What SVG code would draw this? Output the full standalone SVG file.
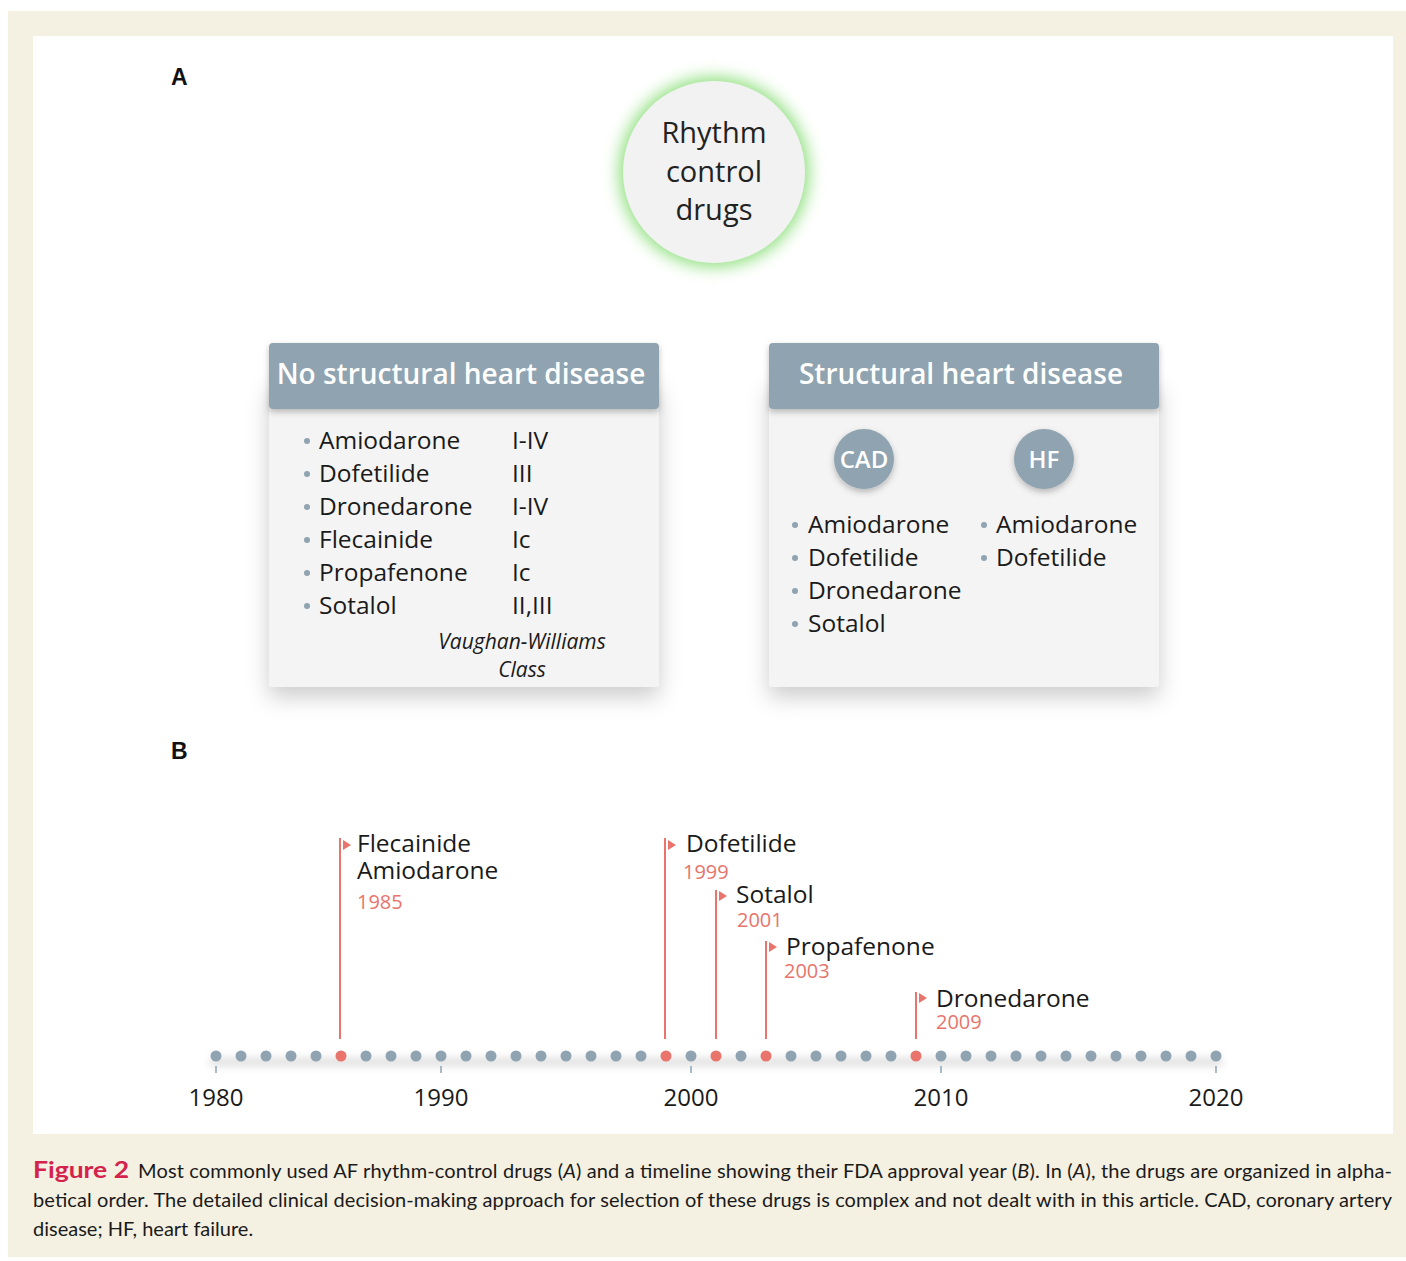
<svg xmlns="http://www.w3.org/2000/svg" width="1406" height="1261" viewBox="0 0 1406 1261">
<defs>
<filter id="glow" x="-40%" y="-40%" width="180%" height="180%"><feGaussianBlur stdDeviation="8"/></filter>
<filter id="shadow" x="-20%" y="-20%" width="140%" height="160%"><feDropShadow dx="0" dy="10" stdDeviation="11" flood-color="#000" flood-opacity="0.2"/></filter>
<filter id="hshadow" x="-10%" y="-20%" width="120%" height="160%"><feDropShadow dx="0" dy="3" stdDeviation="3" flood-color="#000" flood-opacity="0.25"/></filter>
<filter id="blur4" x="-10%" y="-200%" width="120%" height="500%"><feGaussianBlur stdDeviation="4"/></filter>
</defs>
<style>
.sans{font-family:"Open Sans","Noto Sans","DejaVu Sans",sans-serif;}
.item{font-family:"Open Sans","Noto Sans",sans-serif;font-size:24.5px;fill:#1a1a1a;}
.vw{font-family:"Open Sans","Noto Sans",sans-serif;font-size:21px;font-style:italic;fill:#1a1a1a;text-anchor:middle;}
.hdr{font-family:"Open Sans","Noto Sans",sans-serif;font-size:28px;font-weight:600;fill:#ffffff;text-anchor:middle;}
.bul{fill:#8fa3b0;}
.dot{fill:#8fa3b0;}
.rdot{fill:#e8746c;}
.rline{stroke:#e8746c;stroke-width:2;fill:none;}
.flag{fill:#e8746c;}
.yr{font-family:"Open Sans","Noto Sans",sans-serif;font-size:20px;fill:#e8746c;}
.tick{stroke:#8fa3b0;stroke-width:1.5;}
.axis{font-family:"Open Sans","Noto Sans",sans-serif;font-size:24px;fill:#1a1a1a;text-anchor:middle;}
.cap{font-family:Lato,"Liberation Sans",sans-serif;font-size:20px;fill:#1a1a1a;}
.fig{font-family:Lato,"Liberation Sans",sans-serif;font-size:22px;font-weight:bold;fill:#d4224c;}
.lbl{font-family:"Liberation Sans",Arial,sans-serif;font-weight:bold;font-size:23px;fill:#111;}
</style>
<rect x="0" y="0" width="1406" height="1261" fill="#ffffff"/>
<rect x="8" y="11" width="1398" height="1246" fill="#f4f0e2"/>
<rect x="33" y="36" width="1360" height="1098" fill="#ffffff"/>

<text class="lbl" x="171" y="85">A</text>
<text class="lbl" x="171" y="759">B</text>

<g id="rhythm-control-drugs">
<circle cx="714" cy="172" r="95" fill="#8fe07e" filter="url(#glow)"/>
<circle cx="714" cy="172" r="91" fill="#f2f2f2"/>
<text class="sans" x="714" y="143" font-size="29" fill="#222" text-anchor="middle">Rhythm</text>
<text class="sans" x="714" y="182" font-size="29" fill="#222" text-anchor="middle">control</text>
<text class="sans" x="714" y="220" font-size="29" fill="#222" text-anchor="middle">drugs</text>
</g>

<g id="no-structural">
<rect x="269" y="380" width="390" height="307" rx="4" fill="#f4f4f4" filter="url(#shadow)"/>
<rect x="269" y="343" width="390" height="66" rx="4" fill="#8fa3b0" filter="url(#hshadow)"/>
<text class="hdr" x="461" y="384">No structural heart disease</text>
<g class="bul">
<circle cx="307" cy="441" r="3"/><circle cx="307" cy="474" r="3"/><circle cx="307" cy="507" r="3"/>
<circle cx="307" cy="540" r="3"/><circle cx="307" cy="573" r="3"/><circle cx="307" cy="606" r="3"/>
</g>
<text class="item" x="319" y="449">Amiodarone</text>
<text class="item" x="319" y="482">Dofetilide</text>
<text class="item" x="319" y="515">Dronedarone</text>
<text class="item" x="319" y="548">Flecainide</text>
<text class="item" x="319" y="581">Propafenone</text>
<text class="item" x="319" y="614">Sotalol</text>
<text class="item" x="512" y="449">I-IV</text>
<text class="item" x="512" y="482">III</text>
<text class="item" x="512" y="515">I-IV</text>
<text class="item" x="512" y="548">Ic</text>
<text class="item" x="512" y="581">Ic</text>
<text class="item" x="512" y="614">II,III</text>
<text class="vw" x="522" y="649">Vaughan-Williams</text>
<text class="vw" x="522" y="677">Class</text>
</g>

<g id="structural">
<rect x="769" y="380" width="390" height="307" rx="4" fill="#f4f4f4" filter="url(#shadow)"/>
<rect x="769" y="343" width="390" height="66" rx="4" fill="#8fa3b0" filter="url(#hshadow)"/>
<text class="hdr" x="961" y="384">Structural heart disease</text>
<g id="cad">
<circle cx="864" cy="459" r="30" fill="#8fa3b0" filter="url(#hshadow)"/>
<text class="sans" x="864" y="468" font-size="24" font-weight="600" fill="#fff" text-anchor="middle">CAD</text>
</g>
<g id="hf">
<circle cx="1044" cy="459" r="30" fill="#8fa3b0" filter="url(#hshadow)"/>
<text class="sans" x="1044" y="468" font-size="24" font-weight="600" fill="#fff" text-anchor="middle">HF</text>
</g>
<g class="bul">
<circle cx="795" cy="525" r="3"/><circle cx="795" cy="558" r="3"/><circle cx="795" cy="591" r="3"/><circle cx="795" cy="624" r="3"/>
<circle cx="984" cy="525" r="3"/><circle cx="984" cy="558" r="3"/>
</g>
<text class="item" x="808" y="533">Amiodarone</text>
<text class="item" x="808" y="566">Dofetilide</text>
<text class="item" x="808" y="599">Dronedarone</text>
<text class="item" x="808" y="632">Sotalol</text>
<text class="item" x="996" y="533">Amiodarone</text>
<text class="item" x="996" y="566">Dofetilide</text>
</g>

<g id="timeline">
<rect x="210" y="1058" width="1012" height="8" fill="#000" opacity="0.13" filter="url(#blur4)"/>
<g class="dot">
<circle cx="216" cy="1056" r="5.5"/><circle cx="241" cy="1056" r="5.5"/><circle cx="266" cy="1056" r="5.5"/><circle cx="291" cy="1056" r="5.5"/><circle cx="316" cy="1056" r="5.5"/>
<circle cx="366" cy="1056" r="5.5"/><circle cx="391" cy="1056" r="5.5"/><circle cx="416" cy="1056" r="5.5"/><circle cx="441" cy="1056" r="5.5"/><circle cx="466" cy="1056" r="5.5"/>
<circle cx="491" cy="1056" r="5.5"/><circle cx="516" cy="1056" r="5.5"/><circle cx="541" cy="1056" r="5.5"/><circle cx="566" cy="1056" r="5.5"/><circle cx="591" cy="1056" r="5.5"/>
<circle cx="616" cy="1056" r="5.5"/><circle cx="641" cy="1056" r="5.5"/><circle cx="691" cy="1056" r="5.5"/><circle cx="741" cy="1056" r="5.5"/>
<circle cx="791" cy="1056" r="5.5"/><circle cx="816" cy="1056" r="5.5"/><circle cx="841" cy="1056" r="5.5"/><circle cx="866" cy="1056" r="5.5"/><circle cx="891" cy="1056" r="5.5"/>
<circle cx="941" cy="1056" r="5.5"/><circle cx="966" cy="1056" r="5.5"/><circle cx="991" cy="1056" r="5.5"/><circle cx="1016" cy="1056" r="5.5"/><circle cx="1041" cy="1056" r="5.5"/>
<circle cx="1066" cy="1056" r="5.5"/><circle cx="1091" cy="1056" r="5.5"/><circle cx="1116" cy="1056" r="5.5"/><circle cx="1141" cy="1056" r="5.5"/><circle cx="1166" cy="1056" r="5.5"/>
<circle cx="1191" cy="1056" r="5.5"/><circle cx="1216" cy="1056" r="5.5"/>
</g>
<g class="rdot">
<circle cx="341" cy="1056" r="5.5"/><circle cx="666" cy="1056" r="5.5"/><circle cx="716" cy="1056" r="5.5"/><circle cx="766" cy="1056" r="5.5"/><circle cx="916" cy="1056" r="5.5"/>
</g>
<g>
<line class="tick" x1="216" y1="1066" x2="216" y2="1073"/>
<line class="tick" x1="441" y1="1066" x2="441" y2="1073"/>
<line class="tick" x1="691" y1="1066" x2="691" y2="1073"/>
<line class="tick" x1="941" y1="1066" x2="941" y2="1073"/>
<line class="tick" x1="1216" y1="1066" x2="1216" y2="1073"/>
</g>
<text class="axis" x="216" y="1106">1980</text>
<text class="axis" x="441" y="1106">1990</text>
<text class="axis" x="691" y="1106">2000</text>
<text class="axis" x="941" y="1106">2010</text>
<text class="axis" x="1216" y="1106">2020</text>
</g>

<g id="connectors">
<line class="rline" x1="340" y1="838" x2="340" y2="1039"/>
<line class="rline" x1="665" y1="838" x2="665" y2="1039"/>
<line class="rline" x1="716" y1="890" x2="716" y2="1039"/>
<line class="rline" x1="766" y1="941" x2="766" y2="1039"/>
<line class="rline" x1="916" y1="992" x2="916" y2="1039"/>
</g>

<g id="event-1985">
<path class="flag" d="M343 840 L351 845 L343 850 Z"/>
<text class="item" x="357" y="852">Flecainide</text>
<text class="item" x="357" y="879">Amiodarone</text>
<text class="yr" x="357" y="909">1985</text>
</g>
<g id="event-1999">
<path class="flag" d="M668 840 L676 845 L668 850 Z"/>
<text class="item" x="686" y="852">Dofetilide</text>
<text class="yr" x="683" y="879">1999</text>
</g>
<g id="event-2001">
<path class="flag" d="M719 891 L727 896 L719 901 Z"/>
<text class="item" x="736" y="903">Sotalol</text>
<text class="yr" x="737" y="927">2001</text>
</g>
<g id="event-2003">
<path class="flag" d="M769 942 L777 947 L769 952 Z"/>
<text class="item" x="786" y="955">Propafenone</text>
<text class="yr" x="784" y="978">2003</text>
</g>
<g id="event-2009">
<path class="flag" d="M919 993 L927 998 L919 1003 Z"/>
<text class="item" x="936" y="1007">Dronedarone</text>
<text class="yr" x="936" y="1029">2009</text>
</g>

<g id="caption">
<text class="fig" x="33" y="1178" textLength="96" lengthAdjust="spacingAndGlyphs">Figure 2</text>
<text class="cap" x="138" y="1178" textLength="1254" lengthAdjust="spacing">Most commonly used AF rhythm-control drugs (<tspan font-style="italic">A</tspan>) and a timeline showing their FDA approval year (<tspan font-style="italic">B</tspan>). In (<tspan font-style="italic">A</tspan>), the drugs are organized in alpha-</text>
<text class="cap" x="33" y="1207" textLength="1359" lengthAdjust="spacing">betical order. The detailed clinical decision-making approach for selection of these drugs is complex and not dealt with in this article. CAD, coronary artery</text>
<text class="cap" x="33" y="1236">disease; HF, heart failure.</text>
</g>
</svg>
